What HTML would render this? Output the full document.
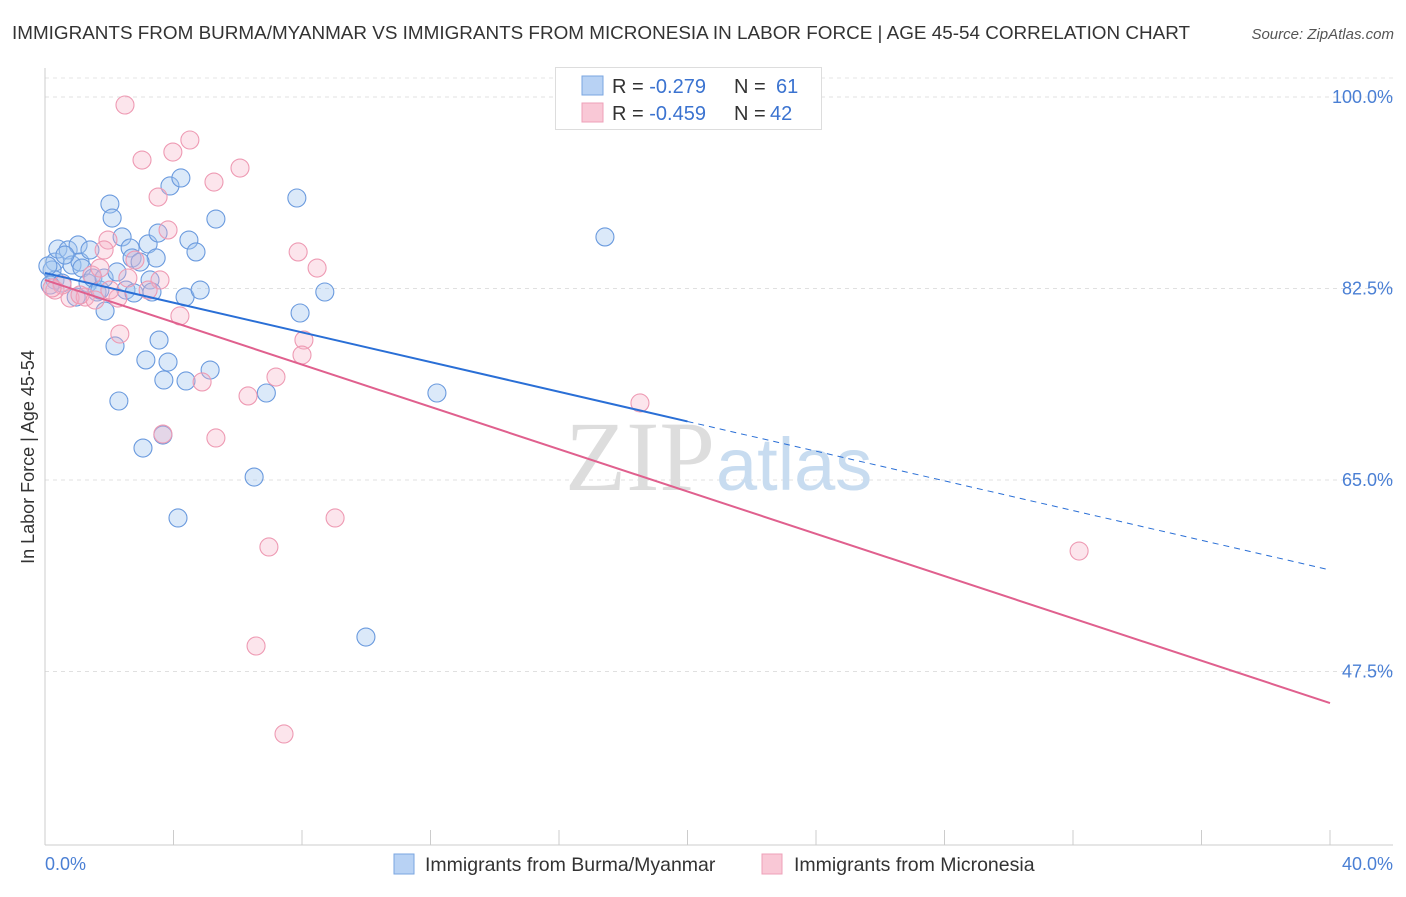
<!DOCTYPE html>
<html><head><meta charset="utf-8"><style>
body{margin:0;background:#fff;width:1406px;height:892px;overflow:hidden;font-family:"Liberation Sans",sans-serif}
</style></head><body>
<svg width="1406" height="892" xmlns="http://www.w3.org/2000/svg">
<text x="12" y="39" font-size="18" fill="#333" textLength="1178" lengthAdjust="spacingAndGlyphs">IMMIGRANTS FROM BURMA/MYANMAR VS IMMIGRANTS FROM MICRONESIA IN LABOR FORCE | AGE 45-54 CORRELATION CHART</text>
<text x="1394" y="39" font-size="15" fill="#555" font-style="italic" text-anchor="end">Source: ZipAtlas.com</text>
<g id="grid"></g>
<text x="715" y="490" font-size="100" fill="#ddd" text-anchor="end" font-family="Liberation Serif,serif">ZIP</text>
<text x="716" y="490" font-size="74" fill="#c8dcf0">atlas</text>
<line x1="45" y1="68" x2="45" y2="845" stroke="#ccc"/>
<line x1="45" y1="845" x2="1393" y2="845" stroke="#ccc"/>
<g id="points"></g>
<g id="trends"></g>
<text x="45" y="870" font-size="18" fill="#4a7fd4">0.0%</text>
<text x="1393" y="870" font-size="18" fill="#4a7fd4" text-anchor="end">40.0%</text>
<text x="34" y="457" font-size="18" fill="#333" text-anchor="middle" transform="rotate(-90 34 457)">In Labor Force | Age 45-54</text>
<g>
<rect x="555.5" y="67.5" width="266" height="62" fill="#fff" stroke="#ddd"/>
<rect x="582" y="76" width="21" height="19" fill="#b8d2f4" stroke="#7aa6e0"/>
<rect x="582" y="103" width="21" height="19" fill="#f9c8d6" stroke="#eea0b8"/>
<text x="612" y="93" font-size="20" fill="#333">R = <tspan fill="#3b73d0">-0.279</tspan><tspan x="734">N = </tspan><tspan x="776" fill="#3b73d0">61</tspan></text>
<text x="612" y="120" font-size="20" fill="#333">R = <tspan fill="#3b73d0">-0.459</tspan><tspan x="734">N = </tspan><tspan x="770" fill="#3b73d0">42</tspan></text>
</g>
<g>
<rect x="394" y="854" width="20" height="20" fill="#b8d2f4" stroke="#7aa6e0"/>
<text x="425" y="871" font-size="19.5" fill="#333">Immigrants from Burma/Myanmar</text>
<rect x="762" y="854" width="20" height="20" fill="#f9c8d6" stroke="#eea0b8"/>
<text x="794" y="871" font-size="19.5" fill="#333">Immigrants from Micronesia</text>
</g>
</svg>
<script>
const yTicks=[100,82.5,65,47.5];
const yTickLabels=["100.0%","82.5%","65.0%","47.5%"];
const xTicks=[4,8,12,16,20,24,28,32,36,40];
const blueX=[0.31,0.22,0.40,0.31,0.53,0.72,0.84,1.03,1.09,0.97,1.15,1.34,1.49,1.62,1.71,1.84,1.87,2.02,2.09,2.18,2.24,2.30,2.40,2.52,2.65,2.77,2.71,3.05,3.14,3.21,3.27,3.33,3.46,3.52,3.55,3.70,3.83,3.67,3.89,4.14,4.23,4.36,4.39,4.48,4.70,4.83,5.14,5.32,6.51,6.89,7.84,7.94,8.71,9.99,12.20,17.43,0.09,0.16,0.62,1.40,2.96];
const blueY=[84.92,84.19,86.11,83.28,83.00,86.02,84.65,86.48,84.92,81.72,84.37,83.00,83.46,82.18,82.36,83.46,80.44,90.22,88.94,77.25,84.01,72.22,87.21,82.36,86.20,82.09,85.29,67.92,75.97,86.57,83.28,82.18,85.29,87.57,77.79,74.14,75.78,69.11,91.87,61.53,92.60,81.72,74.05,86.93,85.84,82.36,75.05,88.85,65.27,72.95,90.77,80.26,82.18,50.65,72.95,87.21,84.56,82.82,85.56,86.02,84.92];
const pinkX=[2.49,4.51,3.98,3.02,6.07,5.26,3.52,3.83,1.96,1.84,7.88,8.47,2.80,2.58,3.58,3.21,1.46,0.78,1.25,2.27,4.20,2.33,8.06,8.00,7.19,4.89,6.32,3.67,5.32,9.03,6.97,6.57,7.44,18.52,32.19,0.31,0.53,1.09,1.56,2.02,0.22,1.71];
const pinkY=[99.27,96.07,94.97,94.24,93.51,92.23,90.86,87.85,86.93,86.02,85.84,84.37,85.10,83.46,83.28,82.36,83.73,81.63,81.72,81.63,79.99,78.34,77.79,76.42,74.41,73.96,72.68,69.20,68.84,61.53,58.88,49.83,41.79,72.04,58.51,82.36,82.82,81.91,81.45,82.36,82.55,84.37];
const blueTrend=[83.92,56.78];
const pinkTrend=[83.28,44.62];
const blueSolidEnd=20;
const NS="http://www.w3.org/2000/svg";
function sx(v){return 45+v/40*1285;}
function sy(v){return 97+(100-v)/17.5*191.5;}
function mk(t,a,p){const e=document.createElementNS(NS,t);for(const k in a)e.setAttribute(k,a[k]);p.appendChild(e);return e;}
const grid=document.getElementById('grid');
mk('line',{x1:45,y1:78,x2:1393,y2:78,stroke:'#e4e4e4','stroke-dasharray':'4,4'},grid);
yTicks.forEach((t,i)=>{
 const l=mk('line',{x1:45,y1:sy(t),x2:1393,y2:sy(t),stroke:'#e0e0e0','stroke-dasharray':'4,4'},grid);
 
 
 const tx=mk('text',{x:1393,y:sy(t)+6,'font-size':18,fill:'#4a7fd4','text-anchor':'end'},grid);
 tx.textContent=yTickLabels[i];
 
 
});
xTicks.forEach(t=>{
 const l=mk('line',{x1:sx(t),y1:830,x2:sx(t),y2:845,stroke:'#ccc'},grid);
 
 
});
const pts=document.getElementById('points');
blueX.forEach((x,i)=>{
 const c=mk('circle',{cx:sx(x),cy:sy(blueY[i]),r:9,fill:'rgba(160,196,240,0.38)',stroke:'#6a9ade','stroke-width':1.1},pts);
 
 
});
pinkX.forEach((x,i)=>{
 const c=mk('circle',{cx:sx(x),cy:sy(pinkY[i]),r:9,fill:'rgba(245,175,198,0.33)',stroke:'#ee9ab3','stroke-width':1.1},pts);
 
 
});
const tr=document.getElementById('trends');
function ty(a,x){return a[0]+(a[1]-a[0])*x/40;}
const b1=mk('line',{x1:sx(0),y1:sy(blueTrend[0]),x2:sx(blueSolidEnd),y2:sy(ty(blueTrend,blueSolidEnd)),stroke:'#2a6fd6','stroke-width':2},tr);


const b2=mk('line',{x1:sx(blueSolidEnd),y1:sy(ty(blueTrend,blueSolidEnd)),x2:sx(40),y2:sy(blueTrend[1]),stroke:'#2a6fd6','stroke-width':1,'stroke-dasharray':'6,5'},tr);


const p1=mk('line',{x1:sx(0),y1:sy(pinkTrend[0]),x2:sx(40),y2:sy(pinkTrend[1]),stroke:'#e0608e','stroke-width':2},tr);


</script>
</body></html>
